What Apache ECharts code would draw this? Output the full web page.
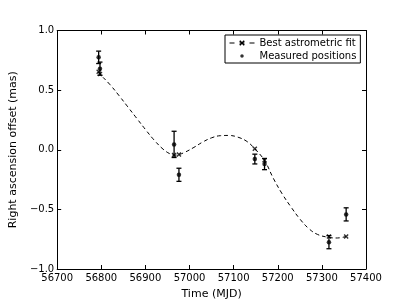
<!DOCTYPE html>
<html>
<head>
<meta charset="utf-8">
<script src="https://cdn.jsdelivr.net/npm/echarts@6/dist/echarts.min.js"></script>
<style>html,body{margin:0;padding:0;background:#fff}#c{width:407px;height:305px}</style>
</head>
<body>
<div id="c"></div>
<script>
// Measured positions (MJD, mas, 1-sigma error)
var measTime  = [56794, 56797, 56965, 56976, 57148, 57170, 57316, 57355];
var measValue = [0.775, 0.68, 0.045, -0.21, -0.078, -0.12, -0.775, -0.542];
var measErr   = [0.052, 0.055, 0.11, 0.055, 0.041, 0.047, 0.055, 0.055];
// Best-fit model at observation epochs
var fitTime  = [56794, 56797, 56965, 56976, 57148, 57170, 57316, 57355];
var fitValue = [0.655, 0.635, -0.045, -0.04, 0.008, -0.088, -0.728, -0.727];
// Dense best-fit curve
var curveTime  = [56794, 56797, 56820, 56840, 56860, 56880, 56900, 56920, 56940, 56955, 56965, 56976, 56990, 57010, 57030, 57050, 57070, 57090, 57110, 57130, 57148, 57170, 57190, 57210, 57230, 57250, 57270, 57290, 57316, 57335, 57355];
var curveValue = [0.655, 0.635, 0.545, 0.455, 0.36, 0.265, 0.17, 0.08, 0.005, -0.033, -0.045, -0.04, -0.02, 0.02, 0.065, 0.10, 0.118, 0.12, 0.105, 0.07, 0.008, -0.09, -0.24, -0.37, -0.48, -0.58, -0.66, -0.71, -0.735, -0.74, -0.727];
var xTicks = [56700, 56800, 56900, 57000, 57100, 57200, 57300, 57400];
var yTicks = [-1.0, -0.5, 0.0, 0.5, 1.0];

var FONT = 'DejaVu Sans';
var crossPath = 'path://M0,2L2,0L5,3L8,0L10,2L7,5L10,8L8,10L5,7L2,10L0,8L3,5Z';
// small dot inside a larger invisible box (for the legend icon)
var dotIcon = 'path://M0,0M10,10M5,2.4L6.8,3.2L7.6,5L6.8,6.8L5,7.6L3.2,6.8L2.4,5L3.2,3.2Z';

var measData = measTime.map(function(t, i){ return [t, measValue[i]]; });
var errData = measTime.map(function(t, i){ return [t, measValue[i] - measErr[i], measValue[i] + measErr[i]]; });
var fitData = fitTime.map(function(t, i){ return [t, fitValue[i]]; });
var curveData = curveTime.map(function(t, i){ return [t, curveValue[i]]; });

function fmtY(v){
  return v.toFixed(1).replace('-', '\u2212');
}

var axisCommon = {
  axisLine: {show: true, onZero: false, lineStyle: {color: '#000', width: 1}},
  axisTick: {show: true, inside: true, length: 4, lineStyle: {color: '#000', width: 1}},
  splitLine: {show: false}
};

var chart = echarts.init(document.getElementById('c'), null, {renderer: 'canvas'});
chart.setOption({
  animation: false,
  backgroundColor: '#fff',
  grid: {left: 51, right: 41, top: 30.5, bottom: 32.5, containLabel: false},
  xAxis: [
    Object.assign({
      type: 'value', min: xTicks[0], max: xTicks[xTicks.length-1], interval: 100,
      name: 'Time (MJD)', nameLocation: 'middle', nameGap: 20,
      nameTextStyle: {fontFamily: FONT, fontSize: 11, color: '#000'},
      axisLabel: {fontFamily: FONT, fontSize: 10, color: '#000', margin: 4, formatter: function(v){ return String(v); }}
    }, axisCommon),
    Object.assign({
      type: 'value', position: 'top', min: xTicks[0], max: xTicks[xTicks.length-1], interval: 100,
      axisLabel: {show: false}
    }, axisCommon)
  ],
  yAxis: [
    Object.assign({
      type: 'value', min: yTicks[0], max: yTicks[yTicks.length-1], interval: 0.5,
      name: 'Right ascension offset (mas)', nameLocation: 'middle', nameGap: 24,
      nameTextStyle: {fontFamily: FONT, fontSize: 11, color: '#000'},
      axisLabel: {fontFamily: FONT, fontSize: 10, color: '#000', margin: 3, formatter: fmtY}
    }, axisCommon),
    Object.assign({
      type: 'value', position: 'right', min: yTicks[0], max: yTicks[yTicks.length-1], interval: 0.5,
      axisLabel: {show: false}
    }, axisCommon)
  ],
  legend: {
    orient: 'vertical', left: 225, top: 35,
    backgroundColor: '#fff', borderColor: '#000', borderWidth: 1, borderRadius: 0,
    padding: [2, 4, 1, 4], itemGap: 1, itemWidth: 25, itemHeight: 7,
    textStyle: {fontFamily: FONT, fontSize: 10, color: '#000', lineHeight: 12},
    data: [
      {name: 'Best astrometric fit', lineStyle: {color: '#000', width: 1, type: [5, 5]}},
      {name: 'Measured positions', icon: dotIcon, itemStyle: {color: '#000'}}
    ]
  },
  series: [
    {
      name: 'Best astrometric fit', type: 'line', data: curveData, smooth: 0.4,
      symbol: crossPath, symbolSize: 5, showSymbol: false,
      itemStyle: {color: '#000'},
      lineStyle: {color: '#000', width: 1, type: [4, 3]},
      z: 2
    },
    {
      name: 'Best astrometric fit', type: 'scatter', data: fitData,
      symbol: crossPath, symbolSize: 5, itemStyle: {color: '#000'}, z: 4
    },
    {
      name: 'errbars', type: 'custom', data: errData,
      renderItem: function(params, api){
        var x = api.value(0), lo = api.value(1), hi = api.value(2);
        var p1 = api.coord([x, hi]), p2 = api.coord([x, lo]);
        var w = 2.5;
        var st = {stroke: '#000', lineWidth: 1.3};
        return {type: 'group', children: [
          {type: 'line', shape: {x1: p1[0], y1: p1[1], x2: p2[0], y2: p2[1]}, style: st},
          {type: 'line', shape: {x1: p1[0]-w, y1: p1[1], x2: p1[0]+w, y2: p1[1]}, style: st},
          {type: 'line', shape: {x1: p2[0]-w, y1: p2[1], x2: p2[0]+w, y2: p2[1]}, style: st}
        ]};
      },
      z: 3
    },
    {
      name: 'Measured positions', type: 'scatter', data: measData,
      symbol: 'circle', symbolSize: 4.5, itemStyle: {color: '#000'}, z: 5
    }
  ]
});
</script>
</body>
</html>
